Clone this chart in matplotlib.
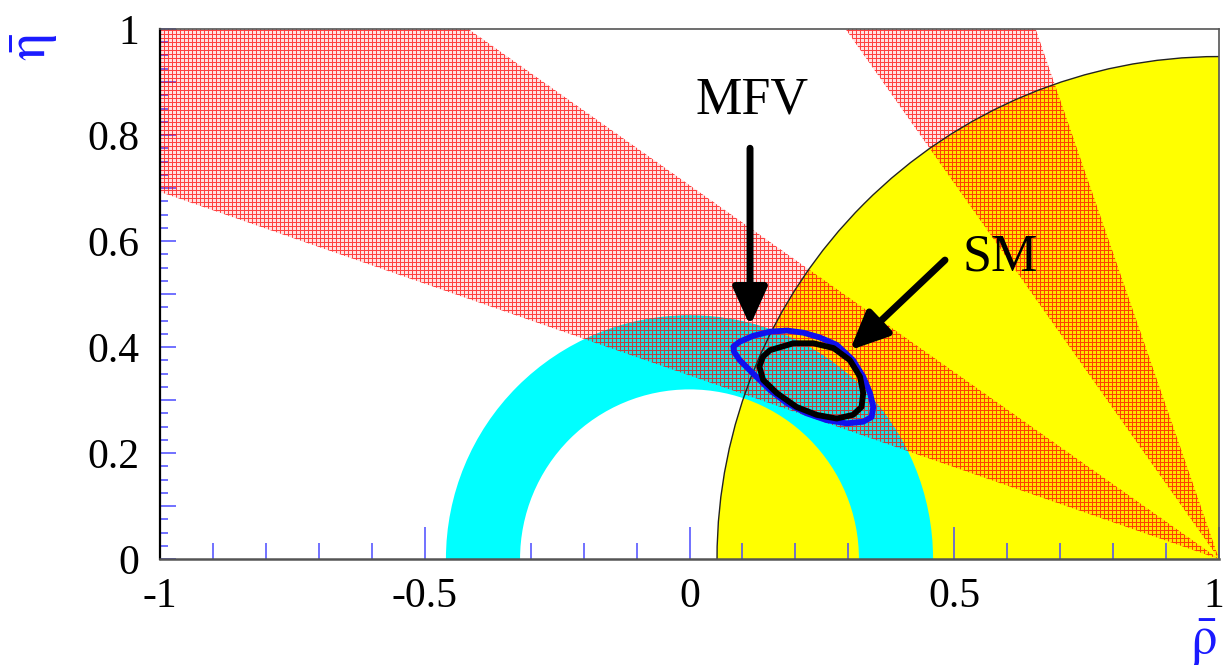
import numpy as np
import matplotlib
matplotlib.use("Agg")
import matplotlib.pyplot as plt
import matplotlib.transforms as mtransforms
from matplotlib.patches import Wedge, Circle, Polygon
from matplotlib.ticker import MultipleLocator, FuncFormatter

plt.rcParams['font.family'] = ['Liberation Serif', 'DejaVu Serif']
plt.rcParams['mathtext.fontset'] = 'stix'
plt.rcParams['axes.unicode_minus'] = False

# ---- data ----
# |Vub/Vcb| ring centred at (0,0)
ring_radii = [0.32, 0.46]
# epsilon_K / Delta m_s disk centred at (1,0)
disk_radius = 0.948
# sin(2 beta) solutions: beta range in degrees (and 90-beta)
beta_range_deg = [19.1, 35.2]

# MFV (blue) and SM (black) allowed contours
mfv_rho = [0.083, 0.095, 0.120, 0.152, 0.184, 0.215, 0.246, 0.278, 0.309, 0.328,
           0.341, 0.347, 0.344, 0.328, 0.297, 0.259, 0.221, 0.184, 0.152, 0.120,
           0.095, 0.084]
mfv_eta = [0.401, 0.410, 0.421, 0.429, 0.431, 0.427, 0.418, 0.404, 0.375, 0.344,
           0.313, 0.287, 0.268, 0.259, 0.256, 0.262, 0.275, 0.294, 0.319, 0.350,
           0.375, 0.391]
sm_rho = [0.139, 0.152, 0.196, 0.234, 0.272, 0.303, 0.322, 0.328, 0.325, 0.309,
          0.278, 0.240, 0.202, 0.165, 0.139, 0.132]
sm_eta = [0.382, 0.394, 0.407, 0.407, 0.398, 0.375, 0.344, 0.313, 0.287, 0.272,
          0.265, 0.272, 0.287, 0.313, 0.338, 0.363]

# annotations: label, text position, arrow tail, arrow tip
mfv_label = ("MFV", (0.118, 0.866), (0.1143, 0.775), (0.1143, 0.440))
sm_label = ("SM", (0.586, 0.568), (0.4825, 0.564), (0.303, 0.394))

x_ticks = [-1, -0.5, 0, 0.5, 1]
x_ticklabels = ["-1", "-0.5", "0", "0.5", "1"]
y_ticks = [0, 0.2, 0.4, 0.6, 0.8, 1.0]
y_ticklabels = ["0", "0.2", "0.4", "0.6", "0.8", "1"]

# ---- figure ----
W_PX, H_PX = 1059, 530
fig = plt.figure(figsize=(12.26, 6.69), dpi=100)
ax = fig.add_axes([160/1226, 110/669, W_PX/1226, H_PX/669])
ax.set_xlim(-1, 1)
ax.set_ylim(0, 1)

# yellow disk
ax.add_patch(Circle((1, 0), disk_radius, facecolor='#ffff00', edgecolor='none', zorder=1))
# cyan ring
ax.add_patch(Wedge((0, 0), ring_radii[1], 0, 180, width=ring_radii[1]-ring_radii[0],
                   facecolor='#00ffff', edgecolor='none', zorder=2))

# fine red grid texture (ROOT-style hatch) used inside the sin2beta wedges
tex = np.zeros((H_PX, W_PX, 4))
tex[..., 0] = 1.0
tex[..., 3] = 0.12
tex[::4, :, 3] = 0.75
tex[:, ::4, 3] = 0.75

b_lo, b_hi = beta_range_deg
for t1, t2 in [(180 - b_hi, 180 - b_lo), (90 + b_lo, 90 + b_hi)]:
    clip = Wedge((1, 0), 3.0, t1, t2, transform=ax.transData)
    im = ax.imshow(tex, extent=(-1, 1, 0, 1), origin='lower', aspect='auto',
                   interpolation='nearest', zorder=3)
    im.set_clip_path(clip)

# disk outline
ax.add_patch(Circle((1, 0), disk_radius, facecolor='none', edgecolor='#222222',
                    lw=1.0, zorder=4))

# contours
ax.add_patch(Polygon(np.column_stack([mfv_rho, mfv_eta]), closed=True, facecolor='none',
                     edgecolor='#1010ee', lw=4.2, zorder=5, joinstyle='round'))
ax.add_patch(Polygon(np.column_stack([sm_rho, sm_eta]), closed=True, facecolor='none',
                     edgecolor='black', lw=4.2, zorder=6, joinstyle='round'))

# arrows and labels
for lab, tpos, tail, tip in [mfv_label, sm_label]:
    ax.annotate("", xy=tip, xytext=tail,
                arrowprops=dict(arrowstyle='-|>,head_length=1.15,head_width=0.52',
                                mutation_scale=20, lw=5, color='black',
                                shrinkA=0, shrinkB=0), zorder=7)
    ax.text(tpos[0], tpos[1], lab, fontsize=37.5, ha='center', va='center', zorder=8)

ax.set_xlim(-1, 1)
ax.set_ylim(0, 1)

# axes styling
for s in ['top', 'right']:
    ax.spines[s].set_color('#555555')
    ax.spines[s].set_linewidth(1.2)
ax.spines['left'].set_color('black')
ax.spines['left'].set_linewidth(1.6)
ax.spines['bottom'].set_color('#555555')
ax.spines['bottom'].set_linewidth(1.8)
for s in ax.spines.values():
    s.set_zorder(10)

tick_col = '#4a4aff'
ax.set_xticks(x_ticks)
ax.set_xticklabels(x_ticklabels)
ax.xaxis.set_minor_locator(MultipleLocator(0.1))
ax.yaxis.set_major_locator(MultipleLocator(0.1))
ax.yaxis.set_major_formatter(FuncFormatter(
    lambda v, p: y_ticklabels[int(round(v / 0.2))] if abs(v / 0.2 - round(v / 0.2)) < 1e-6 else ""))
ax.yaxis.set_minor_locator(MultipleLocator(0.025))
ax.tick_params(axis='x', which='major', direction='in', length=23, width=1.1,
               color=tick_col, labelsize=30, pad=13, top=False)
ax.tick_params(axis='x', which='minor', direction='in', length=11.5, width=1.1,
               color=tick_col, top=False)
ax.tick_params(axis='y', which='major', direction='in', length=11.5, width=1.1,
               color=tick_col, labelsize=30, pad=15, right=False)
ax.tick_params(axis='y', which='minor', direction='in', length=5.8, width=1.1,
               color=tick_col, right=False)

# keep the last x label inside the canvas
last = ax.get_xticklabels()[-1]
last.set_transform(last.get_transform() +
                   mtransforms.ScaledTranslation(-5/100, 0, fig.dpi_scale_trans))

fig.text(34/1226, 1 - 47/669, r'$\bar{\mathrm{\eta}}$', color='#1a1aff', fontsize=40,
         rotation=90, ha='center', va='center')
fig.text(1203/1226, 1 - 668/669, r'$\bar{\mathrm{\rho}}$', color='#1a1aff', fontsize=38,
         ha='center', va='bottom')

fig.savefig('out.png', dpi=100)
